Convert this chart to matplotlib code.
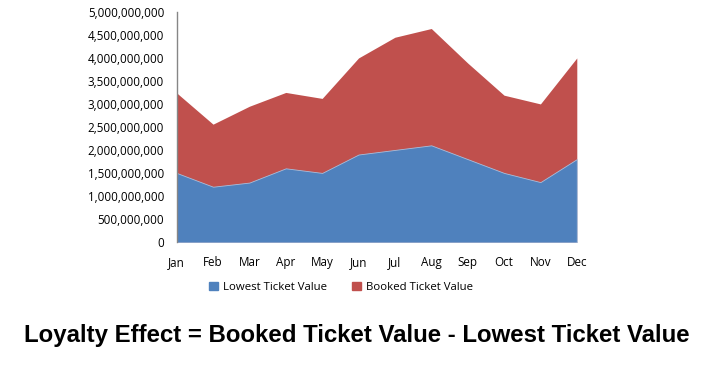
import matplotlib.pyplot as plt
from matplotlib.ticker import FuncFormatter
from matplotlib.patches import Patch

months = ['Jan', 'Feb', 'Mar', 'Apr', 'May', 'Jun', 'Jul', 'Aug', 'Sep', 'Oct', 'Nov', 'Dec']
lowest = [1.51e9, 1.21e9, 1.30e9, 1.61e9, 1.51e9, 1.91e9, 2.01e9, 2.11e9, 1.81e9, 1.51e9, 1.31e9, 1.81e9]
booked = [3.25e9, 2.57e9, 2.96e9, 3.26e9, 3.13e9, 4.01e9, 4.46e9, 4.65e9, 3.90e9, 3.20e9, 3.01e9, 4.01e9]

blue = '#4F81BD'
red = '#C0504D'

plt.rcParams['font.family'] = ['Open Sans', 'DejaVu Sans']

fig = plt.figure(figsize=(7.21, 3.65), dpi=100)
ax = fig.add_axes([0.245, 0.336, 0.555, 0.630])

x = range(len(months))
# booked value drawn behind, lowest value in front
ax.fill_between(x, 0, booked, color=red, linewidth=0)
ax.fill_between(x, 0, lowest, color=blue, edgecolor='#a9bfdc', linewidth=0.6)

ax.set_xlim(0, len(months) - 1)
ax.set_ylim(0, 5e9)
ax.set_yticks([i * 5e8 for i in range(11)])
ax.yaxis.set_major_formatter(FuncFormatter(lambda v, p: f'{int(v):,}'))
ax.set_xticks(list(x))
ax.set_xticklabels(months)

for s in ['top', 'right', 'bottom']:
    ax.spines[s].set_visible(False)
ax.spines['left'].set_color('#868686')
ax.spines['left'].set_linewidth(1)
ax.tick_params(axis='both', length=0, labelsize=8.4, colors='black')
ax.tick_params(axis='y', pad=9)
ax.tick_params(axis='x', pad=10)

handles = [Patch(color=blue, label='Lowest Ticket Value'),
           Patch(color=red, label='Booked Ticket Value')]
fig.legend(handles=handles, loc='center', bbox_to_anchor=(0.473, 0.213), ncol=2,
           frameon=False, fontsize=8.2, handlelength=0.8, handleheight=0.8,
           handletextpad=0.4, columnspacing=2.2)

fig.text(0.495, 0.082, 'Loyalty Effect = Booked Ticket Value - Lowest Ticket Value',
         ha='center', va='center', fontsize=17.3, fontweight='bold', family='Liberation Sans')

fig.savefig('out.png', dpi=100)
